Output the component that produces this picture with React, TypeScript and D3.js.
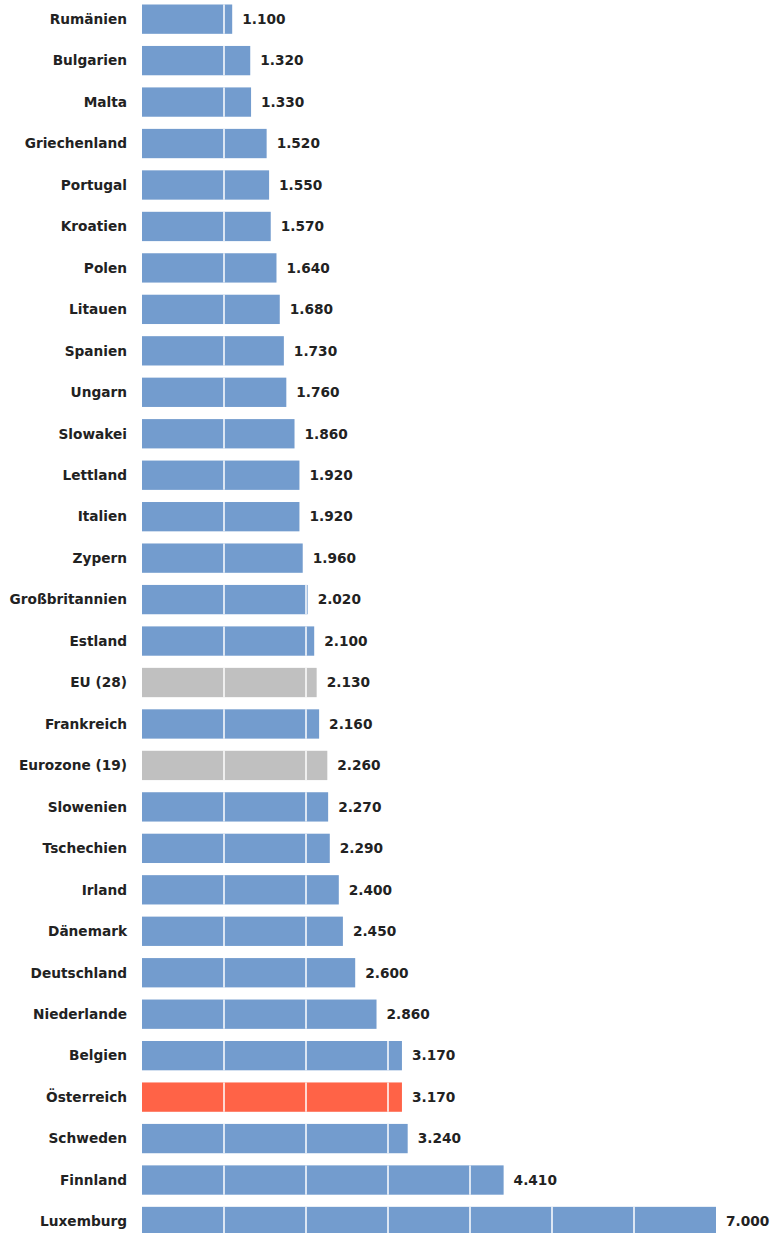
import React from "react";
import * as d3 from "d3";

const countries = [
  "Rumänien", "Bulgarien", "Malta", "Griechenland", "Portugal", "Kroatien", "Polen", "Litauen",
  "Spanien", "Ungarn", "Slowakei", "Lettland", "Italien", "Zypern", "Großbritannien", "Estland",
  "EU (28)", "Frankreich", "Eurozone (19)", "Slowenien", "Tschechien", "Irland", "Dänemark",
  "Deutschland", "Niederlande", "Belgien", "Österreich", "Schweden", "Finnland", "Luxemburg",
];
const values = [
  1100, 1320, 1330, 1520, 1550, 1570, 1640, 1680, 1730, 1760, 1860, 1920, 1920, 1960, 2020, 2100,
  2130, 2160, 2260, 2270, 2290, 2400, 2450, 2600, 2860, 3170, 3170, 3240, 4410, 7000,
];
const aggregates = ["EU (28)", "Eurozone (19)"];
const highlight = ["Österreich"];
const gridTicks = [1000, 2000, 3000, 4000, 5000, 6000, 7000];

const W = 773;
const H = 1233;
const FONT = "'DejaVu Sans', Verdana, sans-serif";

export default function App() {
  const x = d3.scaleLinear().domain([0, 7000]).range([142, 716]);
  const step = 41.46;
  const pi = 0.293;
  const po = pi / 2;
  const r0 = 4.5 - po * step;
  const y = d3
    .scaleBand<string>()
    .domain(countries)
    .range([r0, r0 + step * countries.length])
    .paddingInner(pi)
    .paddingOuter(po);
  const bw = y.bandwidth();
  const fmt = (v: number) => d3.format(",")(v).replace(/,/g, ".");
  const color = (c: string) =>
    highlight.includes(c) ? "#FF6347" : aggregates.includes(c) ? "#C0C0C0" : "#739CCE";

  return (
    <svg width={W} height={H} style={{ position: "absolute", left: 0, top: 0 }}>
      <rect width={W} height={H} fill="#fff" />
      {countries.map((c, i) => {
        const y0 = y(c)!;
        const x1 = x(values[i]);
        return (
          <g key={c}>
            <rect x={x(0)} y={y0} width={x1 - x(0)} height={bw} fill={color(c)} />
            {gridTicks
              .filter((t) => x(t) < x1)
              .map((t) => (
                <line key={t} x1={x(t)} x2={x(t)} y1={y0} y2={y0 + bw} stroke="#fff" strokeWidth={1.5} />
              ))}
            <text
              x={127}
              y={y0 + bw / 2}
              dy="0.35em"
              textAnchor="end"
              fontFamily={FONT}
              fontWeight="bold"
              fontSize={13.7}
              fill="#222"
            >
              {c}
            </text>
            <text
              x={x1 + 10}
              y={y0 + bw / 2}
              dy="0.35em"
              fontFamily={FONT}
              fontWeight="bold"
              fontSize={13.7}
              fill="#222"
            >
              {fmt(values[i])}
            </text>
          </g>
        );
      })}
    </svg>
  );
}
